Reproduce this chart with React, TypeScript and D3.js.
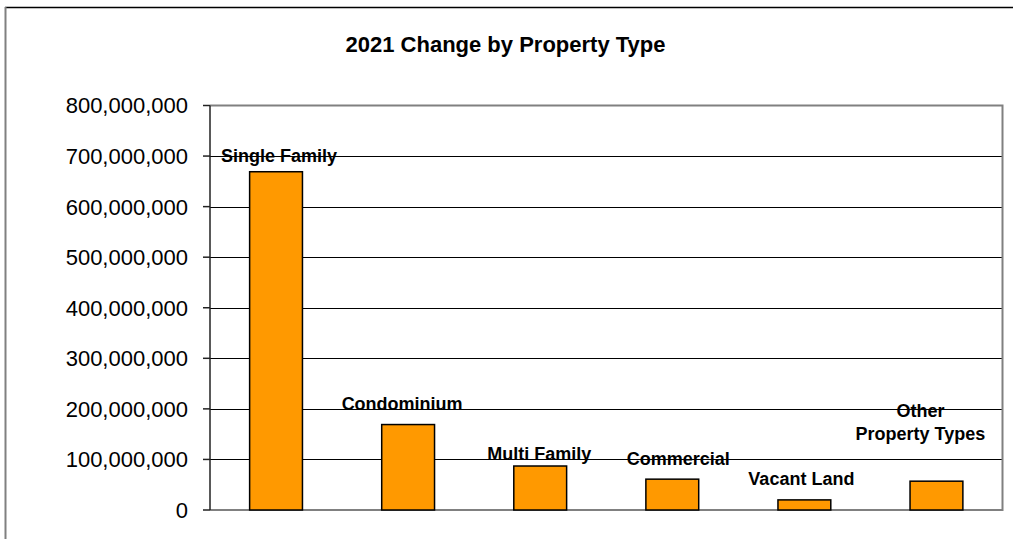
import React from "react";
import * as d3 from "d3";

const categories: string[][] = [
  ["Single Family"],
  ["Condominium"],
  ["Multi Family"],
  ["Commercial"],
  ["Vacant Land"],
  ["Other", "Property Types"],
];
const values: number[] = [669000000, 169000000, 87000000, 61000000, 20000000, 57000000];
const yTicks: number[] = [0, 100000000, 200000000, 300000000, 400000000, 500000000, 600000000, 700000000, 800000000];
const title = "2021 Change by Property Type";

// label layout offsets (px): dx from bar centre, dy baseline above bar top
const labelDx = [3, -6, -1, 6, -3, -16];
const labelDy = [10, 15, 6, 14, 15, 41];

const W = 1013;
const H = 539;
const plot = { left: 210, right: 1002.5, top: 105.5, bottom: 510 };
const font = "'Liberation Sans', Arial, sans-serif";

export default function App() {
  const x = d3
    .scaleBand<number>()
    .domain(d3.range(categories.length))
    .range([plot.left, plot.right])
    .paddingInner(0.6)
    .paddingOuter(0.3);
  const y = d3.scaleLinear().domain([0, 800000000]).range([plot.bottom, plot.top]);
  const fmt = d3.format(",");

  return (
    <svg width={W} height={H} style={{ position: "absolute", left: 0, top: 0, background: "#fff" }}>
      {/* outer chart border */}
      <line x1={5} x2={W} y1={7.5} y2={7.5} stroke="#000" strokeWidth={1.5} />
      <line x1={5.5} x2={5.5} y1={7} y2={H} stroke="#808080" strokeWidth={2} />

      <text x={505.5} y={52} textAnchor="middle" fontFamily={font} fontWeight="bold" fontSize={22} fill="#000">
        {title}
      </text>

      {/* gridlines */}
      {yTicks
        .filter((t) => t > 0 && t < 800000000)
        .map((t) => (
          <line key={t} x1={plot.left} x2={plot.right} y1={Math.round(y(t)) + 0.5} y2={Math.round(y(t)) + 0.5} stroke="#000" strokeWidth={1} />
        ))}

      {/* plot border */}
      <path
        d={`M${plot.left},${plot.top}H${plot.right}V${plot.bottom}H${plot.left}`}
        fill="none"
        stroke="#808080"
        strokeWidth={2}
      />

      {/* bars */}
      {values.map((v, i) => (
        <rect
          key={i}
          x={x(i)!}
          y={y(v)}
          width={x.bandwidth()}
          height={y(0) - y(v)}
          fill="#FF9900"
          stroke="#000"
          strokeWidth={1.5}
        />
      ))}

      {/* y axis */}
      <line x1={plot.left} x2={plot.left} y1={plot.top} y2={plot.bottom} stroke="#222" strokeWidth={1.5} />
      {yTicks.map((t) => (
        <g key={t}>
          <line x1={plot.left - 7} x2={plot.left} y1={y(t)} y2={y(t)} stroke="#222" strokeWidth={1.5} />
          <text x={188} y={y(t)} dy="0.36em" textAnchor="end" fontFamily={font} fontSize={22} fill="#000">
            {fmt(t)}
          </text>
        </g>
      ))}

      {/* data labels */}
      {values.map((v, i) => {
        const cx = x(i)! + x.bandwidth() / 2 + labelDx[i];
        const lines = categories[i];
        const base = y(v) - labelDy[i];
        return (
          <text key={i} textAnchor="middle" fontFamily={font} fontWeight="bold" fontSize={18} fill="#000">
            {lines.map((ln, j) => (
              <tspan key={j} x={cx} y={base - (lines.length - 1 - j) * 23}>
                {ln}
              </tspan>
            ))}
          </text>
        );
      })}
    </svg>
  );
}
